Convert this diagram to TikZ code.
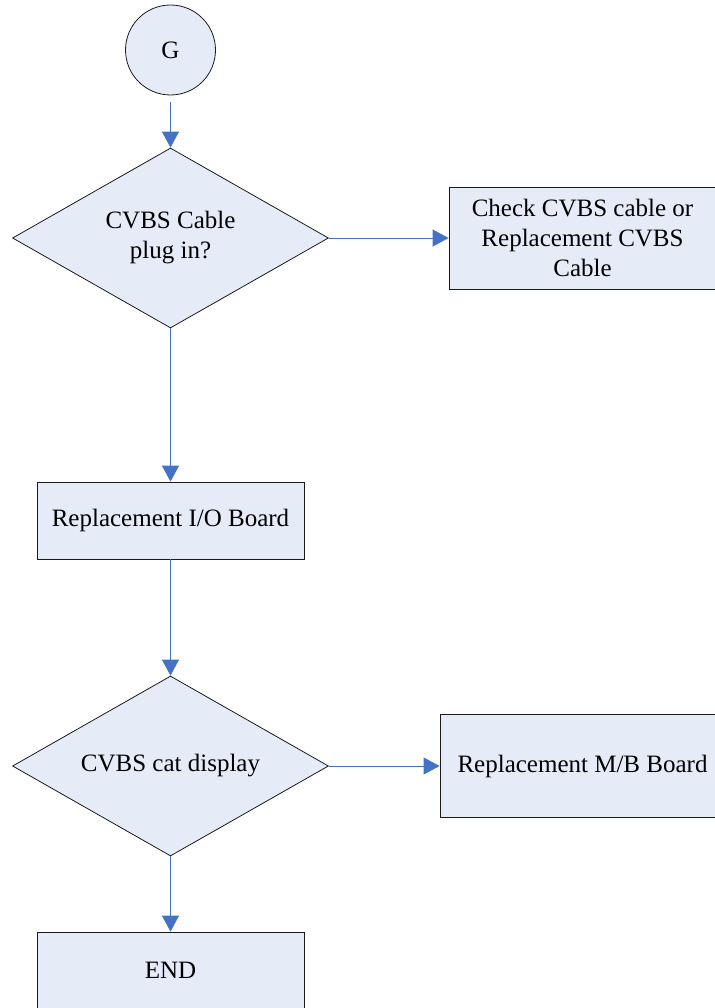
\documentclass[tikz,border=0pt]{standalone}
\usepackage{fontspec}
\setmainfont{Liberation Serif}
\usepackage{tikz}
\usetikzlibrary{arrows.meta,shapes.geometric}
\definecolor{Flow}{HTML}{4472C4}
\definecolor{Pale}{HTML}{E6ECF7}
\definecolor{Edge}{HTML}{1A1A1A}
\begin{document}
\begin{tikzpicture}[x=1pt,y=-1pt,
  term/.style={circle,draw=Edge,fill=Pale,line width=0.8pt,minimum size=90pt,inner sep=0pt,font=\fontsize{25}{30}\selectfont},
  decision/.style={diamond,draw=Edge,fill=Pale,line width=0.8pt,aspect=1.756,minimum width=316pt,minimum height=180pt,inner sep=0pt,align=center,font=\fontsize{25}{30}\selectfont},
  box/.style={rectangle,draw=Edge,fill=Pale,line width=0.8pt,inner sep=0pt,align=center,font=\fontsize{25}{30}\selectfont},
  arrow/.style={-{Triangle[length=16pt,width=17pt]},line width=1pt,draw=Flow,fill=Flow}
]
\useasboundingbox (0,0) rectangle (714,1008);
\node[term] (g) at (170.5,50) {G};
\node[decision] (plug) at (170.5,238) {CVBS Cable\\plug in?};
\node[box,minimum width=267pt,minimum height=102pt] (cable) at (582.5,238) {Check CVBS cable or\\Replacement CVBS\\Cable};
\node[box,minimum width=267pt,minimum height=77pt] (io) at (170.5,520.5) {Replacement I/O Board};
\node[decision] (disp) at (170.5,766) {CVBS cat display};
\node[box,minimum width=285pt,minimum height=103pt] (mb) at (582.5,766) {Replacement M/B Board};
\node[box,minimum width=267pt,minimum height=77pt] (end) at (170.5,970.5) {END};
\draw[arrow,shorten <=7pt] (g) -- (plug);
\draw[arrow] (plug) -- (cable);
\draw[arrow] (plug) -- (io);
\draw[arrow] (io) -- (disp);
\draw[arrow] (disp) -- (mb);
\draw[arrow] (disp) -- (end);
\end{tikzpicture}
\end{document}
